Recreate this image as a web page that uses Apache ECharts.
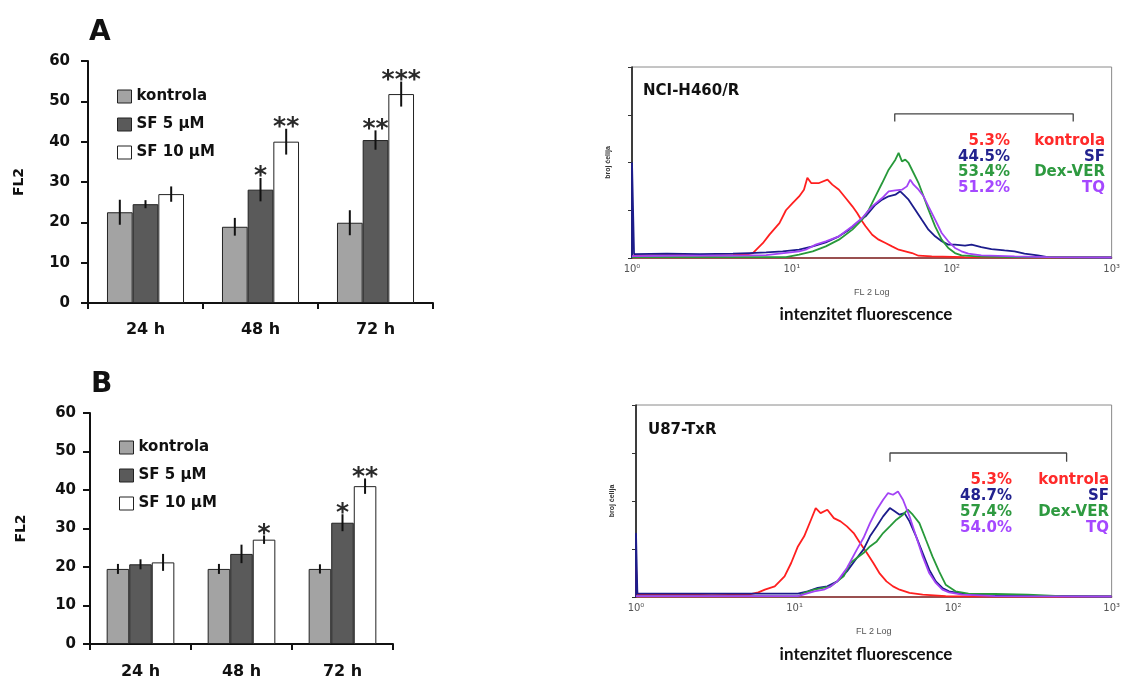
<!DOCTYPE html>
<html><head><meta charset="utf-8">
<script src="https://cdn.jsdelivr.net/npm/echarts@6/dist/echarts.min.js"></script>
<style>html,body{margin:0;padding:0;background:#fff}#c{width:1123px;height:680px}</style>
</head><body><div id="c"></div>
<script>
// ---------- DATA ----------
const categories = ['24 h', '48 h', '72 h'];
const seriesNames = ['kontrola', 'SF 5 μM', 'SF 10 μM'];
// Panel A
const kontrolaA = [22.5, 18.9, 19.9];
const sf5A = [24.5, 28.1, 40.4];
const sf10A = [27.0, 40.0, 51.8];
const kontrolaAErr = [3.1, 2.2, 3.1];
const sf5AErr = [1.0, 2.9, 2.4];
const sf10AErr = [1.9, 3.2, 3.1];
const kontrolaAStars = ['', '', ''];
const sf5AStars = ['', '*', '**'];
const sf10AStars = ['', '**', '***'];
// Panel B
const kontrolaB = [19.5, 19.5, 19.5];
const sf5B = [20.7, 23.4, 31.5];
const sf10B = [21.2, 27.1, 41.0];
const kontrolaBErr = [1.3, 1.3, 1.2];
const sf5BErr = [1.3, 2.4, 2.2];
const sf10BErr = [2.2, 1.1, 2.0];
const kontrolaBStars = ['', '', ''];
const sf5BStars = ['', '', '*'];
const sf10BStars = ['', '*', '**'];
const yTicksBar = [0, 10, 20, 30, 40, 50, 60];

// Histogram 1 (NCI-H460/R): [FL2 value, count]
const h1Kontrola = [[1,2.5],[2,3],[3,2.5],[4.28,3],[5.19,3.5],[5.7,5.2],[6.58,15.5],[7.24,24.5],[8.36,36.5],[9.18,50],[10.1,57.5],[11.1,64.5],[11.9,71.5],[12.5,84],[13.2,78.5],[14.8,78.5],[16.7,82],[17.9,76.8],[19.7,71.5],[21.7,62.8],[23.9,54.1],[25.6,47.1],[27.5,38.4],[28.9,33.2],[31.8,24.4],[34.9,19.2],[38.5,15.7],[42.3,12.2],[46.6,8.7],[51.2,7],[56.4,5.2],[61.9,2.4],[75,1.7],[120,1],[1000,0.6]];
const h1SF = [[1,0],[1,100],[1.03,4],[1.65,4.5],[2.66,4],[4.28,4.5],[5.44,5.2],[6.9,5.9],[8.76,7],[11.1,8.7],[13.5,12.2],[16.3,16.4],[19.7,22.7],[22.8,29.7],[26.2,38.4],[28.9,43.6],[33.3,55.8],[36.7,61.1],[40.3,64.6],[44.4,66.3],[47.6,69.8],[50,66.3],[53.7,61.1],[59.1,50.6],[65,40.1],[71.5,29.7],[78.7,22.7],[86.5,17.5],[95.1,14],[104.7,14],[121,12.9],[133,14],[153,11.5],[177,9.4],[214,8],[247,7],[285,4.5],[345,2.8],[398,1],[1000,0.5]];
const h1DexVER = [[1,1],[5,1],[9.19,1],[11.1,3.5],[13.5,7],[16.3,12.2],[19.7,19.2],[23.9,29.7],[27.5,40.1],[30.3,50.6],[33.3,64.6],[36.7,78.5],[40.3,92.5],[44.4,103],[46.5,110],[48.8,101.2],[51.2,103],[53.7,99.5],[57.7,89],[62,78.5],[66.6,64.6],[71.5,50.6],[78.7,33.2],[86.5,19.2],[95.1,10.5],[104.7,5.2],[115,2.8],[153,1.4],[247,1],[1000,0.5]];
const h1TQ = [[1,2],[2,2.5],[4.28,2.5],[6.9,3],[11.1,7],[12.2,8.7],[14.1,14],[16.3,17.5],[19.7,22.7],[23.9,33.2],[27.5,41.9],[31.8,54.1],[36.7,62.8],[40.3,69.8],[44.4,70.8],[48.8,71.5],[52.4,75],[55,82],[57.7,76.8],[62,71.5],[66.6,64.6],[71.5,54.1],[78.7,40.1],[86.5,26.2],[95.1,17.5],[104.7,10.5],[115,7],[127,4.5],[153,2.8],[247,1.7],[398,1],[1000,0.5]];
// Histogram 2 (U87-TxR)
const h2Kontrola = [[1,0],[1,32],[1.02,2.4],[2,2.4],[3,2],[5.12,2.4],[5.91,4.9],[6.5,7.6],[7.5,11.1],[8.65,21.5],[9.52,35.4],[10.5,52.7],[11.5,63.2],[12.7,80.5],[13.6,92.6],[14.6,87.4],[16.1,90.9],[17.7,82.2],[19.5,78.8],[21.4,73.6],[23.6,66.6],[25.9,56.2],[28.6,45.8],[31.4,35.4],[34.5,24.3],[38,16.3],[41.8,11.1],[46,7.6],[53.1,4.2],[64.3,2.4],[89.8,1],[184,0.7],[1000,0.5]];
const h2SF = [[1,0],[1,66.6],[1.02,3.5],[2,3.5],[4,3.5],[8.25,3.5],[10.5,3.5],[12.1,5.9],[14,9.4],[16.1,11.1],[18.6,16.3],[21.4,26.7],[24.7,40.6],[27.2,49.3],[29.9,63.2],[33,73.6],[36.2,84],[39.9,92.6],[42.8,89.2],[46,85.7],[49.4,87.4],[53.1,78.8],[58.4,63.2],[64.3,45.8],[70.7,28.5],[77.8,16.3],[85.6,9.4],[94.2,5.9],[114,3.5],[145,2.4],[184,1.4],[1000,0.5]];
const h2DexVER = [[1,1],[5,1],[10.5,0.7],[11.5,4.2],[13.3,7.6],[16.9,11.1],[20.4,21.5],[22.5,35.4],[24.7,40.6],[27.2,45.8],[29.9,52.7],[33,57.9],[36.2,66.6],[39.9,73.6],[43.9,80.5],[48.3,85.7],[51.8,90.9],[55.7,85.7],[61.3,77],[67.4,59.6],[74.1,42.3],[81.6,26.7],[89.8,12.8],[103.6,5.9],[125,3.5],[184,3.1],[296,2.4],[477,1],[1000,0.5]];
const h2TQ = [[1,1],[5,1],[10.5,1],[13.3,5.9],[15.3,7.6],[16.9,11.1],[18.6,16.3],[21.4,30.2],[24.7,49.3],[27.2,61.4],[29.9,77],[33,90.9],[36.2,101.3],[38.9,108.3],[41.8,106.5],[44.9,110],[48.3,101.3],[53.1,84],[58.4,63.2],[64.3,42.3],[70.7,24.9],[77.8,14.6],[85.6,7.6],[94.2,4.9],[114,2.4],[184,1],[1000,0.5]];
// gate brackets [xStart, xEnd, yTop, yTick]
const gate1 = [44, 575, 151, 143];
const gate2 = [40, 520, 150, 141];
const histNames = ['kontrola', 'SF', 'Dex-VER', 'TQ'];
const pct1 = ['5.3%', '44.5%', '53.4%', '51.2%'];
const pct2 = ['5.3%', '48.7%', '57.4%', '54.0%'];

// ---------- STYLE ----------
const BOLD = 'DejaVu Sans';
const barColors = ['#a3a3a3', '#5a5a5a', '#ffffff'];
const histColors = ['#ff1f1f', '#1c1c8c', '#27993a', '#a343f5'];
const textColors = ['#ff2a2a', '#22228e', '#2e9a40', '#a548ff'];
const GAP = 0.33;

const chart = echarts.init(document.getElementById('c'));

function errSeries(vals, errs, stars, xi, yi) {
  const data = [], starList = [];
  for (let s = 0; s < 3; s++) for (let c = 0; c < 3; c++) {
    data.push([c, s, vals[s][c], errs[s][c]]);
    starList.push(stars[s][c]);
  }
  return {
    type: 'custom', xAxisIndex: xi, yAxisIndex: yi, z: 10, silent: true,
    renderItem: function (params, api) {
      const c = api.value(0), s = api.value(1), v = api.value(2), e = api.value(3);
      const ctr = api.coord([c, v]);
      const band = api.size([1, 0])[0];
      const bw = band * (1 - GAP) / 3;
      const x = ctr[0] + (s - 1) * bw;
      const top = api.coord([c, v + e])[1];
      const bot = api.coord([c, v - e])[1];
      const children = [{ type: 'line', shape: { x1: x, y1: top, x2: x, y2: bot }, style: { stroke: '#111', lineWidth: 2 } }];
      const st = starList[params.dataIndex];
      if (st) children.push({ type: 'text', x: x, y: top - 1, style: { text: st, textAlign: 'center', textVerticalAlign: 'middle', font: 'bold 25px DejaVu Sans', fill: '#2a2a2a' } });
      return { type: 'group', children: children };
    },
    data: data
  };
}

function barAxisX(gi, margin) {
  return { type: 'category', gridIndex: gi, data: categories,
    axisLine: { lineStyle: { color: '#111', width: 2 } },
    axisTick: { show: true, length: 6, lineStyle: { color: '#111', width: 2 } },
    axisLabel: { color: '#111', fontFamily: BOLD, fontWeight: 'bold', fontSize: 16, margin: margin } };
}
function barAxisY(gi, margin, gap) {
  return { type: 'value', gridIndex: gi, min: yTicksBar[0], max: yTicksBar[yTicksBar.length - 1], interval: 10,
    name: 'FL2', nameLocation: 'middle', nameGap: gap, nameRotate: 90,
    nameTextStyle: { color: '#111', fontFamily: BOLD, fontWeight: 'bold', fontSize: 14 },
    axisLine: { show: true, lineStyle: { color: '#111', width: 2 } },
    axisTick: { show: true, length: 7, lineStyle: { color: '#111', width: 2 } },
    splitLine: { show: false },
    axisLabel: { color: '#111', fontFamily: BOLD, fontWeight: 'bold', fontSize: 15, margin: margin } };
}
function histAxisX(gi) {
  return { type: 'log', logBase: 10, gridIndex: gi, min: 1, max: 1000,
    name: 'FL 2 Log', nameLocation: 'middle', nameGap: 30,
    nameTextStyle: { color: '#555', fontSize: 9, fontFamily: 'Liberation Sans' },
    axisLine: { lineStyle: { color: '#8a2a2a', width: 1.5 } },
    axisTick: { show: false }, minorTick: { show: false }, splitLine: { show: false },
    axisLabel: { color: '#555', fontSize: 10, fontFamily: 'DejaVu Sans', margin: 6,
      formatter: function (v) { const sup = ['⁰','¹','²','³']; return '10' + sup[Math.round(Math.log10(v))]; } } };
}
function histAxisY(gi) {
  return { type: 'value', gridIndex: gi, min: 0, max: 200, interval: 50,
    name: 'broj ćelija', nameLocation: 'middle', nameGap: 20, nameRotate: 90,
    nameTextStyle: { color: '#333', fontSize: 7, fontWeight: 'bold', fontFamily: 'Liberation Sans' },
    axisLine: { show: true, lineStyle: { color: '#111', width: 1.5 } },
    axisTick: { show: true, length: 4, lineStyle: { color: '#333' } },
    axisLabel: { show: false }, splitLine: { show: false } };
}
function histLine(name, data, color, xi) {
  return { type: 'line', name: name + '_h', xAxisIndex: xi, yAxisIndex: xi, data: data, showSymbol: false, silent: true,
    lineStyle: { color: color, width: 1.8 }, itemStyle: { color: color } };
}
function gateLine(g, xi) {
  return { type: 'line', xAxisIndex: xi, yAxisIndex: xi, showSymbol: false, silent: true,
    data: [[g[0], g[3]], [g[0], g[2]], [g[1], g[2]], [g[1], g[3]]],
    lineStyle: { color: '#444', width: 1.3 } };
}
function barSeries(name, data, color, xi) {
  return { type: 'bar', name: name, xAxisIndex: xi, yAxisIndex: xi, data: data,
    barGap: '0%', barCategoryGap: (GAP * 100) + '%',
    itemStyle: { color: color, borderColor: '#222', borderWidth: 1 } };
}
function legendFor(left, top) {
  return { data: seriesNames, left: left, top: top, orient: 'vertical', itemWidth: 14, itemHeight: 13, itemGap: 13,
    icon: 'rect', selectedMode: false,
    itemStyle: { borderColor: '#222', borderWidth: 1 },
    textStyle: { color: '#111', fontFamily: BOLD, fontWeight: 'bold', fontSize: 15 } };
}

function pctTexts(pcts, x1, x2, y0, dy) {
  const out = [];
  for (let i = 0; i < 4; i++) {
    out.push({ type: 'text', x: x1, y: y0 + i * dy, style: { text: pcts[i], textAlign: 'right', textVerticalAlign: 'middle', font: 'bold 15px DejaVu Sans', fill: textColors[i] } });
    out.push({ type: 'text', x: x2, y: y0 + i * dy, style: { text: histNames[i], textAlign: 'right', textVerticalAlign: 'middle', font: 'bold 15px DejaVu Sans', fill: textColors[i] } });
  }
  return out;
}

const option = {
  animation: false,
  backgroundColor: '#fff',
  grid: [
    { left: 88, top: 61, width: 345, height: 242 },
    { left: 90, top: 413, width: 303, height: 233 },
    { left: 632, top: 67, width: 482, height: 191, show: true, borderColor: '#8a8a8a', borderWidth: 1 },
    { left: 636, top: 405, width: 482, height: 192, show: true, borderColor: '#8a8a8a', borderWidth: 1 }
  ],
  xAxis: [barAxisX(0, 19), barAxisX(1, 20), histAxisX(2), histAxisX(3)],
  yAxis: [barAxisY(0, 18, 62), barAxisY(1, 14, 62), histAxisY(2), histAxisY(3)],
  legend: [legendFor(112, 84), legendFor(114, 435)],
  series: [
    barSeries(seriesNames[0], kontrolaA, barColors[0], 0),
    barSeries(seriesNames[1], sf5A, barColors[1], 0),
    barSeries(seriesNames[2], sf10A, barColors[2], 0),
    errSeries([kontrolaA, sf5A, sf10A], [kontrolaAErr, sf5AErr, sf10AErr], [kontrolaAStars, sf5AStars, sf10AStars], 0, 0),
    barSeries(seriesNames[0], kontrolaB, barColors[0], 1),
    barSeries(seriesNames[1], sf5B, barColors[1], 1),
    barSeries(seriesNames[2], sf10B, barColors[2], 1),
    errSeries([kontrolaB, sf5B, sf10B], [kontrolaBErr, sf5BErr, sf10BErr], [kontrolaBStars, sf5BStars, sf10BStars], 1, 1),
    histLine('kontrola', h1Kontrola, histColors[0], 2),
    histLine('SF', h1SF, histColors[1], 2),
    histLine('Dex-VER', h1DexVER, histColors[2], 2),
    histLine('TQ', h1TQ, histColors[3], 2),
    gateLine(gate1, 2),
    histLine('kontrola', h2Kontrola, histColors[0], 3),
    histLine('SF', h2SF, histColors[1], 3),
    histLine('Dex-VER', h2DexVER, histColors[2], 3),
    histLine('TQ', h2TQ, histColors[3], 3),
    gateLine(gate2, 3)
  ],
  graphic: [
    { type: 'text', x: 89, y: 19, style: { text: 'A', font: 'bold 28px DejaVu Sans', fill: '#111' } },
    { type: 'text', x: 91, y: 371, style: { text: 'B', font: 'bold 28px DejaVu Sans', fill: '#111' } },
    { type: 'text', x: 643, y: 91, style: { text: 'NCI-H460/R', textVerticalAlign: 'middle', font: 'bold 15px DejaVu Sans', fill: '#111' } },
    { type: 'text', x: 648, y: 430, style: { text: 'U87-TxR', textVerticalAlign: 'middle', font: 'bold 15px DejaVu Sans', fill: '#111' } },
    { type: 'text', x: 866, y: 315, style: { text: 'intenzitet fluorescence', textAlign: 'center', textVerticalAlign: 'middle', font: 'bold 17px Lato', fill: '#111' } },
    { type: 'text', x: 866, y: 655, style: { text: 'intenzitet fluorescence', textAlign: 'center', textVerticalAlign: 'middle', font: 'bold 17px Lato', fill: '#111' } }
  ].concat(pctTexts(pct1, 1010, 1105, 141, 15.7)).concat(pctTexts(pct2, 1012, 1109, 480, 16))
};
chart.setOption(option);
</script></body></html>
